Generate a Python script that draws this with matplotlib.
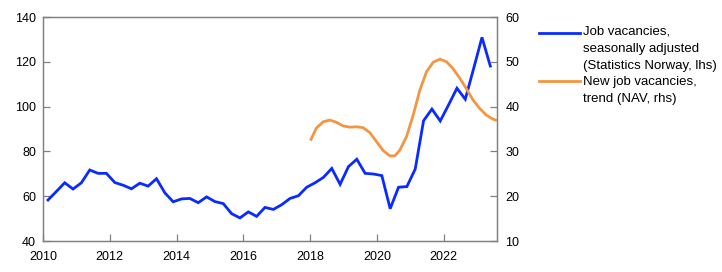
"""Job vacancies (SSB, lhs) vs new job vacancies trend (NAV, rhs)."""
import matplotlib
matplotlib.use("Agg")
import matplotlib.pyplot as plt  # noqa: E402
from matplotlib.lines import Line2D  # noqa: E402

plt.rcParams["font.family"] = ["Liberation Sans", "DejaVu Sans"]

# quarterly, 2010Q1 .. 2023Q2 (thousands, lhs)
vac_start = 2010
vac_sa = [58.3, 62.1, 66.0, 63.2, 66.0, 71.7, 70.2, 70.2, 66.1, 64.9,
          63.3, 65.8, 64.5, 67.8, 61.5, 57.5, 58.8, 59.0, 57.1, 59.7,
          57.6, 56.7, 52.2, 50.3, 53.0, 51.0, 55.0, 54.1, 56.2, 59.0,
          60.2, 64.0, 66.0, 68.4, 72.4, 65.3, 73.2, 76.5, 70.2, 69.9,
          69.2, 54.4, 64.0, 64.3, 72.1, 93.7, 98.9, 93.6, 100.8, 108.2,
          103.3, 117.0, 130.9, 118.1]

nav_t = [2018.01, 2018.19, 2018.39, 2018.59, 2018.79, 2018.99, 2019.19,
         2019.39, 2019.59, 2019.79, 2019.99, 2020.19, 2020.39, 2020.54,
         2020.69, 2020.89, 2021.09, 2021.29, 2021.49, 2021.69, 2021.89,
         2022.09, 2022.28, 2022.49, 2022.69, 2022.88, 2023.08, 2023.28,
         2023.48, 2023.60]
nav_trend = [32.4, 35.2, 36.6, 37.0, 36.5, 35.7, 35.4, 35.5, 35.3, 34.2,
             32.2, 30.2, 29.0, 29.0, 30.3, 33.3, 38.1, 43.7, 47.8, 49.9,
             50.6, 50.0, 48.5, 46.3, 43.9, 41.5, 39.6, 38.1, 37.2, 36.9]

left_ticks = [40, 60, 80, 100, 120, 140]
right_ticks = [10, 20, 30, 40, 50, 60]
x_ticks = [2010, 2012, 2014, 2016, 2018, 2020, 2022]

BLUE = "#0a2bff"
ORANGE = "#f39642"
SPINE = "#808080"
W, H = 722, 272

vac_t = [vac_start + 0.15 + 0.25 * i for i in range(len(vac_sa))]

fig = plt.figure(figsize=(W / 100, H / 100), dpi=100)
ax = fig.add_axes([43 / W, (H - 241) / H, 454 / W, 224 / H])
ax2 = ax.twinx()

ax.plot(vac_t, vac_sa, color=BLUE, lw=2.0, solid_joinstyle="miter")
ax2.plot(nav_t, nav_trend, color=ORANGE, lw=2.0, solid_capstyle="butt")

ax.set_xlim(2010, 2023.6)
ax.set_ylim(40, 140)
ax2.set_ylim(10, 60)
ax.set_xticks(x_ticks)
ax.set_yticks(left_ticks)
ax2.set_yticks(right_ticks)

for a in (ax, ax2):
    for sp in a.spines.values():
        sp.set_color(SPINE)
        sp.set_linewidth(0.9)
    a.tick_params(direction="in", length=5, width=0.9, color=SPINE,
                  labelsize=9, pad=4)
ax.tick_params(axis="x", pad=7)
ax.tick_params(axis="y", pad=5)
ax2.tick_params(axis="y", pad=6)

# legend: handle sits on the first text line of each entry
fig.add_artist(Line2D([539 / W, 580 / W], [1 - 33 / H] * 2,
                      color=BLUE, lw=2.0))
fig.add_artist(Line2D([539 / W, 580 / W], [1 - 81 / H] * 2,
                      color=ORANGE, lw=2.0))
fig.text(583 / W, 1 - 26 / H,
         "Job vacancies,\nseasonally adjusted\n(Statistics Norway, lhs)",
         fontsize=9.5, va="top", linespacing=1.55)
fig.text(583 / W, 1 - 76 / H, "New job vacancies,\ntrend (NAV, rhs)",
         fontsize=9.5, va="top", linespacing=1.55)

fig.savefig("out.png", dpi=100)
